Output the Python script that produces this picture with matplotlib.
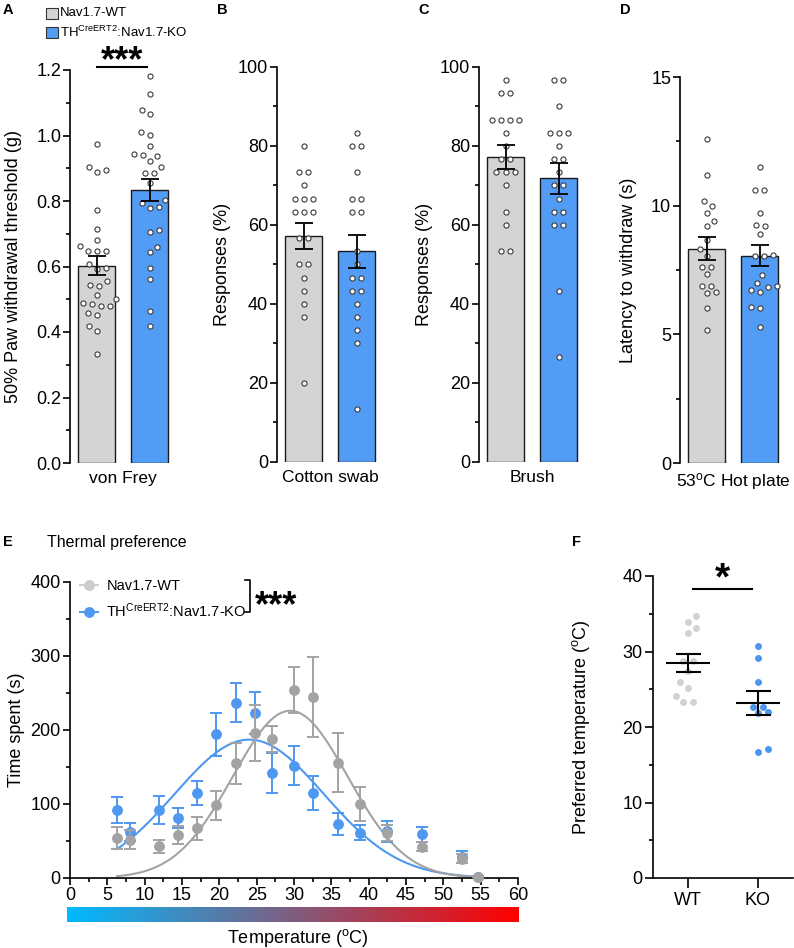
import numpy as np
import matplotlib
matplotlib.use('Agg')
import matplotlib.pyplot as plt
from matplotlib.colors import LinearSegmentedColormap
from matplotlib.lines import Line2D
from matplotlib.patches import Rectangle
from matplotlib.ticker import FormatStrFormatter

plt.rcParams['font.family'] = ['Liberation Sans', 'DejaVu Sans']
plt.rcParams['mathtext.fontset'] = 'custom'
plt.rcParams['mathtext.rm'] = 'Liberation Sans'
plt.rcParams['mathtext.it'] = 'Liberation Sans:italic'
plt.rcParams['mathtext.bf'] = 'Liberation Sans:bold'

W, H = 794, 948

GREY_BAR = '#d4d4d4'
BLUE_BAR = '#529cf6'
GREY_E = '#a3a3a3'
GREY_E_LEG = '#cdcdcd'
BLUE_E = '#4e98f0'
GREY_F = '#d2d2d2'
BLUE_F = '#4a96ee'

KO_LABEL = r'TH$^{\mathrm{CreERT2}}$:Nav1.7-KO'

# ---- A: von Frey (g)
vf_wt = [0.975, 0.903, 0.890, 0.896, 0.773, 0.714, 0.682, 0.663, 0.646, 0.646, 0.646,
         0.607, 0.595, 0.592, 0.556, 0.541, 0.544, 0.514, 0.500, 0.490, 0.486, 0.480,
         0.478, 0.458, 0.453, 0.419, 0.402, 0.334]
vf_ko = [1.182, 1.126, 1.078, 1.065, 1.002, 1.010, 0.969, 0.941, 0.938, 0.943, 0.921,
         0.905, 0.885, 0.885, 0.854, 0.795, 0.803, 0.778, 0.783, 0.712, 0.705, 0.661,
         0.643, 0.595, 0.561, 0.463, 0.419]
vf_mean = [0.603, 0.834]
vf_sem = [0.028, 0.034]

# ---- B: cotton swab (%)
cs_wt = [80.0, 73.3, 73.3, 70.0, 66.7, 66.7, 66.7, 63.3, 63.3, 63.3, 56.7, 56.7,
         50.0, 50.0, 46.7, 43.3, 40.0, 36.7, 20.0]
cs_ko = [83.3, 80.0, 80.0, 73.3, 66.7, 66.7, 63.3, 63.3, 53.3, 50.0, 46.7, 46.7,
         43.3, 43.3, 40.0, 36.7, 33.3, 30.0, 13.3]
cs_mean = [57.2, 53.3]
cs_sem = [3.4, 4.2]

# ---- C: brush (%)
br_wt = [96.7, 93.3, 93.3, 86.7, 86.7, 86.7, 86.7, 83.3, 80.0, 76.7, 76.7, 73.3,
         73.3, 73.3, 70.0, 63.3, 60.0, 53.3, 53.3]
br_ko = [96.7, 96.7, 90.0, 83.3, 83.3, 83.3, 80.0, 76.7, 76.7, 73.3, 70.0, 70.0,
         66.7, 63.3, 63.3, 60.0, 60.0, 43.3, 26.7]
br_mean = [77.2, 71.8]
br_sem = [3.0, 4.0]

# ---- D: hot plate latency (s)
hp_wt = [12.6, 11.2, 10.2, 10.0, 9.7, 9.4, 9.2, 8.66, 8.3, 8.04, 7.63, 7.63, 7.35,
         6.89, 6.89, 6.63, 6.60, 6.01, 5.17]
hp_ko = [11.5, 10.6, 10.6, 9.7, 9.2, 9.25, 8.9, 8.1, 8.04, 8.04, 7.3, 7.0, 6.85,
         6.66, 6.72, 6.88, 6.08, 6.01, 5.30]
hp_mean = [8.32, 8.06]
hp_sem = [0.45, 0.40]

# ---- E: thermal preference (time spent, s)
temps = [6.3, 8.0, 11.9, 14.5, 17.0, 19.6, 22.2, 24.8, 27.1, 30.0, 32.5, 35.9,
         38.9, 42.5, 47.2, 52.5, 54.6]
tp_wt = [54, 52, 43, 58, 67, 98, 155, 196, 188, 254, 244, 156, 100, 61, 42, 26, 2]
tp_wt_sem = [15, 13, 9, 12, 15, 20, 28, 38, 18, 31, 54, 40, 23, 11, 6, 6, 1]
tp_ko = [92, 62, 92, 81, 115, 194, 237, 223, 142, 152, 115, 73, 61, 63, 59, 28, 2]
tp_ko_sem = [17, 12, 19, 14, 16, 29, 26, 29, 27, 26, 23, 15, 10, 14, 10, 8, 1]
# gaussian fits: amplitude, centre, sd
fit_wt = (226, 29.5, 7.7)
fit_ko = (187, 24.0, 10.0)

# ---- F: preferred temperature
pt_wt = [34.7, 33.9, 33.1, 32.4, 28.8, 28.8, 27.4, 25.9, 25.2, 24.1, 23.3, 23.3]
pt_ko = [30.7, 29.2, 26.0, 22.6, 22.6, 22.0, 21.8, 17.1, 16.7]
pt_mean = [28.5, 23.2]
pt_sem = [1.2, 1.6]


def box(l, t, r, b):
    return [l / W, 1 - b / H, (r - l) / W, (b - t) / H]


def fx(x):
    return x / W


def fy(y):
    return 1 - y / H


def swarm(ax, x0, values, spacing):
    # beeswarm in pixel space; tied values are laid out symmetrically
    trans = ax.transData
    vals = np.asarray(values, dtype=float)
    pts = trans.transform(np.column_stack([np.full(len(vals), x0), vals]))
    ys = pts[:, 1]
    xc = pts[0, 0]
    placed = []
    xs = np.empty(len(vals))
    done = np.zeros(len(vals), bool)
    for n, i in enumerate(np.argsort(ys)):
        if done[i]:
            continue
        ties = [j for j in range(len(vals)) if not done[j] and abs(vals[j] - vals[i]) < 1e-9]
        if len(ties) > 1:
            for k, j in enumerate(ties):
                dx = (k - (len(ties) - 1) / 2) * spacing
                xs[j] = xc + dx
                placed.append((dx, ys[j]))
                done[j] = True
            continue
        y = ys[i]
        best = 0.0
        for k in range(400):
            found = False
            signs = [0] if k == 0 else ([1, -1] if n % 2 else [-1, 1])
            for sgn in signs:
                dx = sgn * k * 0.5
                if all((dx - px) ** 2 + (y - py) ** 2 >= spacing ** 2 for px, py in placed):
                    best = dx
                    found = True
                    break
            if found:
                break
        placed.append((best, y))
        xs[i] = xc + best
        done[i] = True
    return trans.inverted().transform(np.column_stack([xs, ys]))[:, 0]


def bar_panel(rect, wt, ko, means, sems, ylim, major, minor, ylabel, xlabel, ypad):
    ax = fig.add_axes(box(*rect))
    ax.set_xlim(-0.5, 1.5)
    ax.set_ylim(*ylim)
    for s in ['top', 'right', 'bottom']:
        ax.spines[s].set_visible(False)
    ax.spines['left'].set_linewidth(1.2)
    ax.set_yticks(major)
    ax.set_yticks(minor, minor=True)
    ax.tick_params(axis='y', which='major', length=4.8, width=1.2, labelsize=13, pad=1.5)
    ax.tick_params(axis='y', which='minor', length=2.6, width=1.2)
    ax.set_xticks([])
    ax.bar([0, 1], means, width=0.68, color=[GREY_BAR, BLUE_BAR],
           edgecolor='#1a1a1a', linewidth=1.0, zorder=1)
    for x0, vals in ((0, wt), (1, ko)):
        xs = swarm(ax, x0, vals, 9.0)
        ax.plot(xs, vals, 'o', ms=3.7, mfc='white', mec='#3a3a3a', mew=0.8,
                zorder=2, clip_on=False)
    ax.errorbar([0, 1], means, yerr=sems, fmt='none', ecolor='black',
                elinewidth=1.3, capsize=6.5, capthick=1.3, zorder=3)
    ax.set_ylabel(ylabel, fontsize=13, labelpad=ypad)
    ax.set_xlabel(xlabel, fontsize=12.5, labelpad=6)
    return ax


fig = plt.figure(figsize=(W / 100, H / 100), dpi=100)

# ---- top legend
for yc, col, lab in ((13.5, GREY_BAR, 'Nav1.7-WT'), (32.5, BLUE_BAR, KO_LABEL)):
    fig.add_artist(Rectangle((fx(46), fy(yc + 5.5)), 12 / W, 11 / H, facecolor=col,
                             edgecolor='#333333', linewidth=0.8, transform=fig.transFigure))
    fig.text(fx(60), fy(yc), lab, fontsize=9.5, va='center', ha='left')

axA = bar_panel((70, 70, 176, 463), vf_wt, vf_ko, vf_mean, vf_sem, (0, 1.2),
                np.arange(0, 1.21, 0.2), np.arange(0.1, 1.2, 0.2),
                '50% Paw withdrawal threshold (g)', 'von Frey', 10)
axA.yaxis.set_major_formatter(FormatStrFormatter('%.1f'))
axA.plot([0.0, 0.95], [1.21, 1.21], color='black', lw=1.5, clip_on=False)
axA.text(0.475, 1.195, '***', fontsize=26, fontweight='bold', ha='center', va='baseline')

bar_panel((277, 67, 383, 462), cs_wt, cs_ko, cs_mean, cs_sem, (0, 100),
          np.arange(0, 101, 20), np.arange(10, 100, 20), 'Responses (%)', 'Cotton swab', 5)
bar_panel((479, 67, 585, 462), br_wt, br_ko, br_mean, br_sem, (0, 100),
          np.arange(0, 101, 20), np.arange(10, 100, 20), 'Responses (%)', 'Brush', 5)
bar_panel((680, 77, 786, 463), hp_wt, hp_ko, hp_mean, hp_sem, (0, 15),
          [0, 5, 10, 15], [2.5, 7.5, 12.5], 'Latency to withdraw (s)',
          r'53$^{\mathrm{o}}$C Hot plate', 10)

# ---- E
axE = fig.add_axes(box(70, 582, 518, 878))
axE.set_xlim(0, 60)
axE.set_ylim(0, 400)
for s in ['top', 'right']:
    axE.spines[s].set_visible(False)
for s in ['left', 'bottom']:
    axE.spines[s].set_linewidth(1.2)
axE.set_xticks(np.arange(0, 61, 5))
axE.set_xticks(np.arange(2.5, 60, 5), minor=True)
axE.set_yticks(np.arange(0, 401, 100))
axE.set_yticks(np.arange(50, 400, 100), minor=True)
axE.tick_params(which='major', length=4.8, width=1.2, labelsize=13, pad=2)
axE.tick_params(which='minor', length=2.6, width=1.2)
axE.set_ylabel('Time spent (s)', fontsize=13, labelpad=4)

xfit = np.linspace(temps[0], temps[-1], 300)
for fit, col in ((fit_ko, BLUE_E), (fit_wt, GREY_E)):
    a, mu, sd = fit
    axE.plot(xfit, a * np.exp(-(xfit - mu) ** 2 / (2 * sd ** 2)), color=col, lw=1.5, zorder=2)
axE.errorbar(temps, tp_ko, yerr=tp_ko_sem, fmt='o', color=BLUE_E, ms=6.8, capsize=4.5,
             elinewidth=1.4, capthick=1.4, zorder=3, clip_on=False)
axE.errorbar(temps, tp_wt, yerr=tp_wt_sem, fmt='o', color=GREY_E, ms=6.8, capsize=4.5,
             elinewidth=1.4, capthick=1.4, zorder=4, clip_on=False)

handles = [Line2D([], [], color=GREY_E_LEG, marker='o', ms=6.8, lw=1.4),
           Line2D([], [], color=BLUE_E, marker='o', ms=6.8, lw=1.4)]
axE.legend(handles, ['Nav1.7-WT', KO_LABEL], loc='upper left', bbox_to_anchor=(0.0, 1.045),
           frameon=False, fontsize=10.5, handlelength=1.2, handletextpad=0.6,
           labelspacing=0.6, borderaxespad=0.3)
axE.plot([23.4, 24.1, 24.1, 23.4], [403, 403, 359, 359], color='black', lw=1.2, clip_on=False)
axE.text(24.7, 354, '***', fontsize=26, fontweight='bold', ha='left', va='baseline')

cmap = LinearSegmentedColormap.from_list('temp', ['#00baff', '#ff0000'])
axG = fig.add_axes(box(67, 907, 519, 922))
axG.imshow(np.linspace(0, 1, 256)[None, :], aspect='auto', cmap=cmap)
axG.axis('off')
fig.text(fx(298), fy(938), r'Temperature ($^{\mathrm{o}}$C)', fontsize=13, ha='center', va='center')

# ---- F
axF = fig.add_axes(box(653, 576, 793, 878))
axF.set_xlim(-0.5, 1.5)
axF.set_ylim(0, 40)
for s in ['top', 'right']:
    axF.spines[s].set_visible(False)
for s in ['left', 'bottom']:
    axF.spines[s].set_linewidth(1.2)
axF.set_yticks(np.arange(0, 41, 10))
axF.set_yticks(np.arange(5, 40, 10), minor=True)
axF.set_xticks([0, 1])
axF.set_xticklabels(['WT', 'KO'])
axF.tick_params(which='major', length=5.5, width=1.2, labelsize=13, pad=2)
axF.tick_params(axis='x', which='major', length=7, pad=3)
axF.tick_params(which='minor', length=3, width=1.2)
axF.set_ylabel(r'Preferred temperature ($^{\mathrm{o}}$C)', fontsize=13, labelpad=22)
for x0, vals, col in ((0, pt_wt, GREY_F), (1, pt_ko, BLUE_F)):
    xs = swarm(axF, x0, vals, 9.5)
    axF.plot(xs, vals, 'o', ms=5, color=col, mec='none', zorder=2)
axF.hlines(pt_mean, [-0.31, 0.69], [0.31, 1.31], color='black', lw=1.5, zorder=3)
axF.errorbar([0, 1], pt_mean, yerr=pt_sem, fmt='none', ecolor='black', elinewidth=1.5,
             capsize=9, capthick=1.5, zorder=3)
axF.plot([0.07, 0.91], [38.3, 38.3], color='black', lw=1.5, clip_on=False)
axF.text(0.49, 38.2, '*', fontsize=28, fontweight='bold', ha='center', va='baseline')

# ---- panel letters and titles
for x, y, s in ((3, 10, 'A'), (217, 10, 'B'), (418, 10, 'C'), (620, 10, 'D'),
                (3, 542, 'E'), (572, 542, 'F')):
    fig.text(fx(x), fy(y), s, fontsize=10.5, fontweight='bold', ha='left', va='center')
fig.text(fx(47), fy(542), 'Thermal preference', fontsize=11.5, ha='left', va='center')

fig.savefig('out.png', dpi=100)
